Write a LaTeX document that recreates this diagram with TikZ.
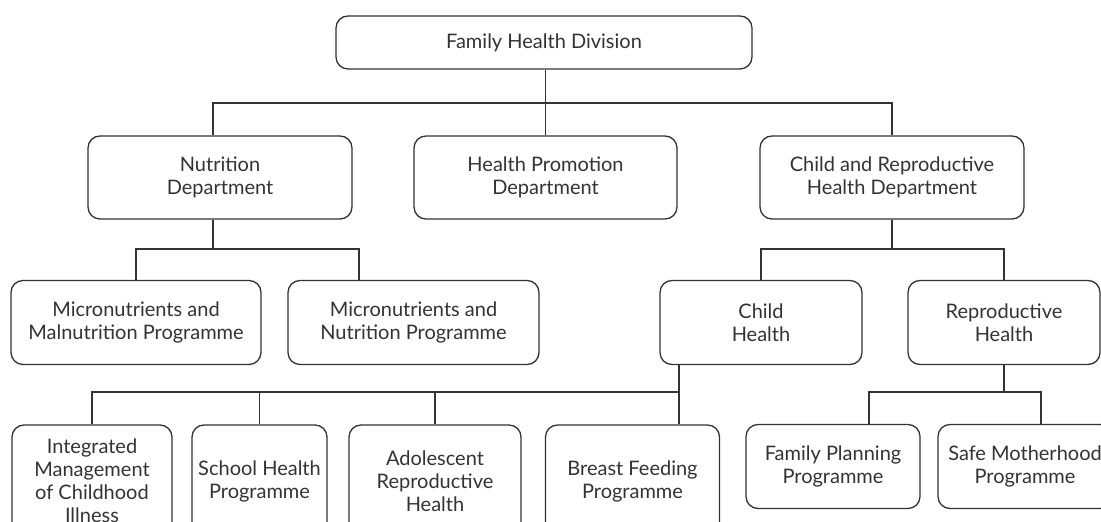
\documentclass[tikz,border=0pt]{standalone}
\usepackage{fontspec}
\setmainfont{Lato}
\usepackage{tikz}
\usetikzlibrary{calc}
\definecolor{ink}{HTML}{333333}

\begin{document}
\begin{tikzpicture}[x=0.5pt,y=-0.5pt,
        unit/.style={draw=ink,line width=0.65pt,rounded corners=6pt,align=center,
            text=ink,inner sep=0pt,font=\fontsize{10}{11.5}\selectfont},
        link/.style={draw=ink,line width=0.65pt}]
        \useasboundingbox (0,0) rectangle (1101,522);
        \clip (0,0) rectangle (1101,522);

        \node[unit,minimum width=208pt,minimum height=26.5pt] (fhd) at (544,42.5) {Family Health Division};

        \node[unit,minimum width=132pt,minimum height=41.5pt] (nut) at (220,177.5) {Nutrition\\Department};
        \node[unit,minimum width=131.5pt,minimum height=41.5pt] (hpd) at (545.5,177.5) {Health Promotion\\Department};
        \node[unit,minimum width=132pt,minimum height=41.5pt] (crh) at (892,177.5) {Child and Reproductive\\Health Department};

        \node[unit,minimum width=125pt,minimum height=42pt] (mmp) at (136,322.5) {Micronutrients and\\Malnutrition Programme};
        \node[unit,minimum width=125.5pt,minimum height=42pt] (mnp) at (413.5,322.5) {Micronutrients and\\Nutrition Programme};
        \node[unit,minimum width=101pt,minimum height=42pt] (chh) at (761,322.5) {Child\\Health};
        \node[unit,minimum width=96pt,minimum height=42pt] (rph) at (1004,322.5) {Reproductive\\Health};

        \node[unit,minimum width=80pt,minimum height=56pt] (imc) at (92,481) {Integrated\\Management\\of Childhood\\Illness};
        \node[unit,minimum width=67.5pt,minimum height=56pt] (shp) at (259.5,481) {School Health\\Programme};
        \node[unit,minimum width=86pt,minimum height=56pt] (arh) at (435,481) {Adolescent\\Reproductive\\Health};
        \node[unit,minimum width=87pt,minimum height=56pt] (bfp) at (632.5,481) {Breast Feeding\\Programme};
        \node[unit,minimum width=87pt,minimum height=42pt] (fpp) at (833,466.5) {Family Planning\\Programme};
        \node[unit,minimum width=87pt,minimum height=42pt] (smp) at (1025,466.5) {Safe Motherhood\\Programme};

        % bus lines and drops
        \coordinate (nutdrop) at (213,249);
        \coordinate (mnpdrop) at (359,249);
        \coordinate (chhdrop) at (679,392);
        \coordinate (fppdrop) at (869,392);
        \coordinate (smpdrop) at (1041,392);

        \draw[link] (hpd.north) -- (hpd.north |- fhd.south);
        \draw[link] (nut.north -| nutdrop) |- (crh.north |- 0,103) -- (crh.north);

        \draw[link] (nut.south -| nutdrop) -- (nutdrop);
        \draw[link] (mmp.north) |- (mnpdrop) -- (mnp.north -| mnpdrop);

        \draw[link] (crh.south) -- (crh.south |- 0,249);
        \draw[link] (chh.north) |- (rph.north |- 0,249) -- (rph.north);

        \draw[link] (chh.south -| chhdrop) -- (bfp.north -| chhdrop);
        \draw[link] (imc.north) |- (chhdrop);
        \draw[link] (shp.north) -- (shp.north |- chhdrop);
        \draw[link] (arh.north) -- (arh.north |- chhdrop);

        \draw[link] (rph.south) -- (rph.south |- fppdrop);
        \draw[link] (fpp.north -| fppdrop) |- (smpdrop) -- (smp.north -| smpdrop);
    \end{tikzpicture}
\end{document}
